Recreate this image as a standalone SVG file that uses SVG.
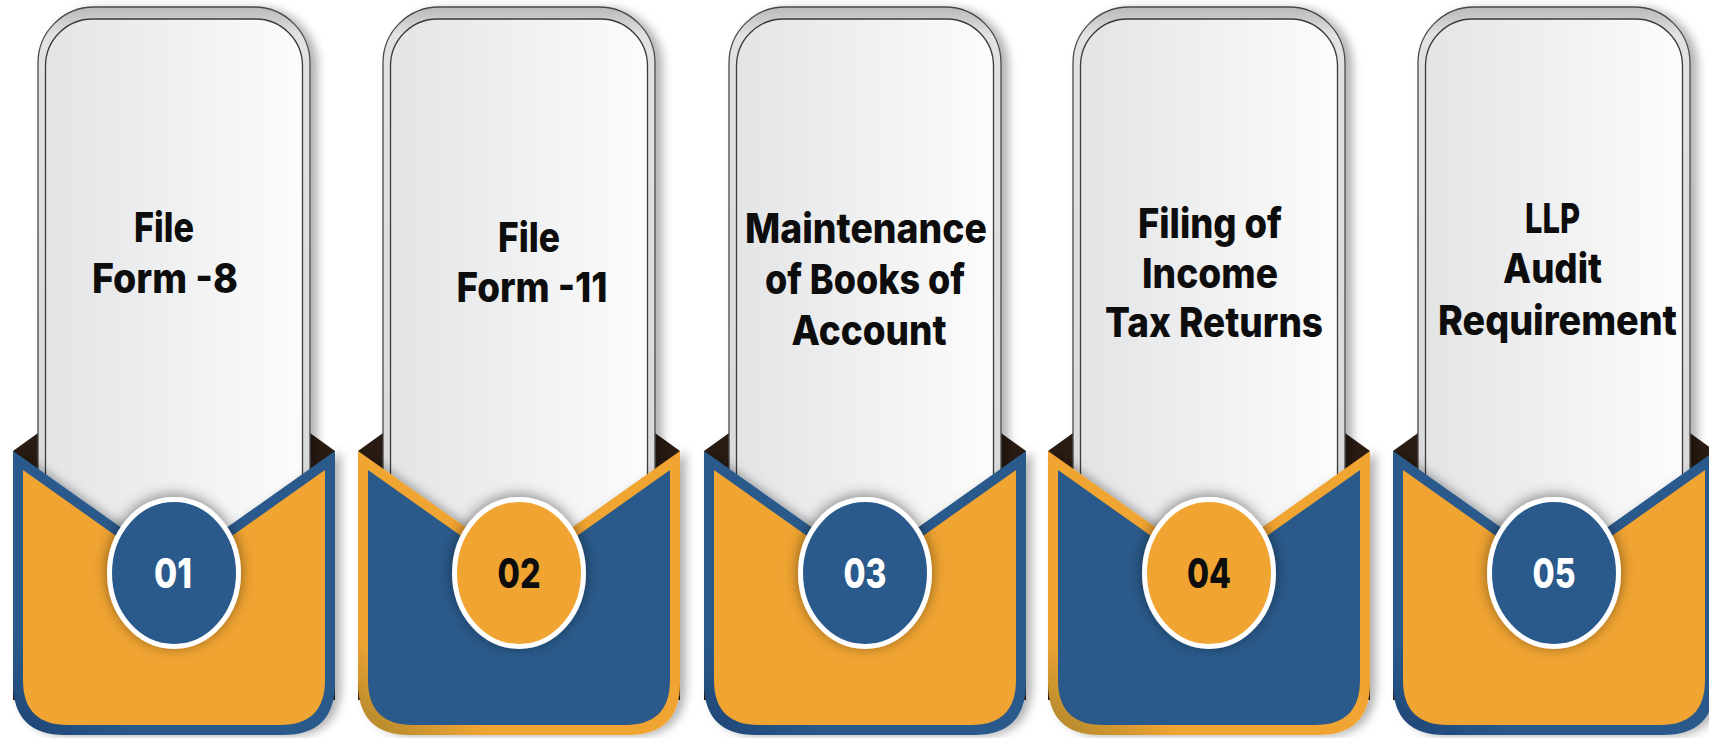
<svg xmlns="http://www.w3.org/2000/svg" width="1709" height="738" viewBox="0 0 1709 738">
<defs>
<linearGradient id="cardFill" x1="0" y1="0" x2="1" y2="0">
<stop offset="0" stop-color="#e3e4e6"/>
<stop offset="1" stop-color="#fcfcfc"/>
</linearGradient>
<linearGradient id="band" x1="0" y1="0" x2="0" y2="1">
<stop offset="0" stop-color="#b9b9b9"/>
<stop offset="0.04" stop-color="#e2e2e2"/>
<stop offset="1" stop-color="#d6d6d6"/>
</linearGradient>
<linearGradient id="edgeOrange" x1="0" y1="1" x2="0.4" y2="0.55">
<stop offset="0" stop-color="#a9852d"/>
<stop offset="0.45" stop-color="#f0a431"/>
<stop offset="1" stop-color="#f0a431"/>
</linearGradient>
<linearGradient id="edgeBlue" x1="0" y1="1" x2="0.4" y2="0.55">
<stop offset="0" stop-color="#1d4574"/>
<stop offset="0.45" stop-color="#2a5a8b"/>
<stop offset="1" stop-color="#2a5a8b"/>
</linearGradient>
<filter id="cardShadow" x="-20%" y="-10%" width="140%" height="130%">
<feDropShadow dx="7" dy="2" stdDeviation="5" flood-color="#000" flood-opacity="0.3"/>
</filter>
<filter id="pocketShadow" x="-20%" y="-20%" width="140%" height="150%">
<feDropShadow dx="6" dy="1" stdDeviation="5" flood-color="#000" flood-opacity="0.3"/>
</filter>
<filter id="circleShadow" x="-40%" y="-40%" width="180%" height="180%">
<feDropShadow dx="0" dy="-2" stdDeviation="7" flood-color="#000" flood-opacity="0.45"/>
</filter>
</defs>
<style>
.back{fill:#2a1c12}
.cardOuter{fill:url(#band);stroke:#4a4a4a;stroke-width:1.3}
.cardInner{fill:url(#cardFill);stroke:#3a3a3a;stroke-width:1.3}
.label{font-family:Inter,"Open Sans","Liberation Sans",sans-serif;font-weight:800;font-size:41px;fill:#0d0d0d;text-anchor:middle}
.num{font-family:Inter,"Open Sans","Liberation Sans",sans-serif;font-weight:800;font-size:41px;text-anchor:middle}
.blueEdge{fill:url(#edgeBlue)}
.orangeEdge{fill:url(#edgeOrange)}
.blueFill{fill:#2a5a8b}
.orangeFill{fill:#f0a431}
.ring{stroke:#fff;stroke-width:5}
.numWhite{fill:#fff}
.numBlack{fill:#0d0d0d}
</style>
<rect width="1709" height="738" fill="#ffffff"/>

<g id="node-01" transform="translate(38,0)">
<polygon class="back" points="-25,451 0,433 272,433 297,451 297,700 -25,700"/>
<g filter="url(#cardShadow)">
<rect class="cardOuter" x="0" y="7" width="272" height="700" rx="56"/>
<rect class="cardInner" x="7.5" y="19" width="257" height="690" rx="47"/>
</g>
<text class="label" x="126" y="242" textLength="60" lengthAdjust="spacingAndGlyphs">File</text>
<text class="label" x="127" y="293" textLength="146" lengthAdjust="spacingAndGlyphs">Form -8</text>
<g filter="url(#pocketShadow)">
<path class="blueEdge" d="M-25,451 L136,565 L297,451 L297,683 Q297,735 245,735 L27,735 Q-25,735 -25,683 Z"/>
<path class="orangeFill" d="M-15,470 L136,577 L287,470 L287,680 Q287,725 242,725 L30,725 Q-15,725 -15,680 Z"/>
</g>
<ellipse class="blueFill ring" cx="136" cy="573" rx="64.5" ry="73.5" filter="url(#circleShadow)"/>
<text class="num numWhite" x="135" y="588" textLength="38" lengthAdjust="spacingAndGlyphs">01</text>
</g>

<g id="node-02" transform="translate(383,0)">
<polygon class="back" points="-25,451 0,433 272,433 297,451 297,700 -25,700"/>
<g filter="url(#cardShadow)">
<rect class="cardOuter" x="0" y="7" width="272" height="700" rx="56"/>
<rect class="cardInner" x="7.5" y="19" width="257" height="690" rx="47"/>
</g>
<text class="label" x="146" y="252" textLength="62" lengthAdjust="spacingAndGlyphs">File</text>
<text class="label" x="149" y="302" textLength="151" lengthAdjust="spacingAndGlyphs">Form -11</text>
<g filter="url(#pocketShadow)">
<path class="orangeEdge" d="M-25,451 L136,565 L297,451 L297,683 Q297,735 245,735 L27,735 Q-25,735 -25,683 Z"/>
<path class="blueFill" d="M-15,470 L136,577 L287,470 L287,680 Q287,725 242,725 L30,725 Q-15,725 -15,680 Z"/>
</g>
<ellipse class="orangeFill ring" cx="136" cy="573" rx="64.5" ry="73.5" filter="url(#circleShadow)"/>
<text class="num numBlack" x="136" y="588" textLength="43" lengthAdjust="spacingAndGlyphs">02</text>
</g>

<g id="node-03" transform="translate(729,0)">
<polygon class="back" points="-25,451 0,433 272,433 297,451 297,700 -25,700"/>
<g filter="url(#cardShadow)">
<rect class="cardOuter" x="0" y="7" width="272" height="700" rx="56"/>
<rect class="cardInner" x="7.5" y="19" width="257" height="690" rx="47"/>
</g>
<text class="label" x="137" y="243" textLength="242" lengthAdjust="spacingAndGlyphs">Maintenance</text>
<text class="label" x="136" y="294" textLength="200" lengthAdjust="spacingAndGlyphs">of Books of</text>
<text class="label" x="140" y="345" textLength="155" lengthAdjust="spacingAndGlyphs">Account</text>
<g filter="url(#pocketShadow)">
<path class="blueEdge" d="M-25,451 L136,565 L297,451 L297,683 Q297,735 245,735 L27,735 Q-25,735 -25,683 Z"/>
<path class="orangeFill" d="M-15,470 L136,577 L287,470 L287,680 Q287,725 242,725 L30,725 Q-15,725 -15,680 Z"/>
</g>
<ellipse class="blueFill ring" cx="136" cy="573" rx="64.5" ry="73.5" filter="url(#circleShadow)"/>
<text class="num numWhite" x="136" y="588" textLength="43" lengthAdjust="spacingAndGlyphs">03</text>
</g>

<g id="node-04" transform="translate(1073,0)">
<polygon class="back" points="-25,451 0,433 272,433 297,451 297,700 -25,700"/>
<g filter="url(#cardShadow)">
<rect class="cardOuter" x="0" y="7" width="272" height="700" rx="56"/>
<rect class="cardInner" x="7.5" y="19" width="257" height="690" rx="47"/>
</g>
<text class="label" x="137" y="238" textLength="144" lengthAdjust="spacingAndGlyphs">Filing of</text>
<text class="label" x="137" y="288" textLength="136" lengthAdjust="spacingAndGlyphs">Income</text>
<text class="label" x="141" y="337" textLength="218" lengthAdjust="spacingAndGlyphs">Tax Returns</text>
<g filter="url(#pocketShadow)">
<path class="orangeEdge" d="M-25,451 L136,565 L297,451 L297,683 Q297,735 245,735 L27,735 Q-25,735 -25,683 Z"/>
<path class="blueFill" d="M-15,470 L136,577 L287,470 L287,680 Q287,725 242,725 L30,725 Q-15,725 -15,680 Z"/>
</g>
<ellipse class="orangeFill ring" cx="136" cy="573" rx="64.5" ry="73.5" filter="url(#circleShadow)"/>
<text class="num numBlack" x="136" y="588" textLength="44" lengthAdjust="spacingAndGlyphs">04</text>
</g>

<g id="node-05" transform="translate(1418,0)">
<polygon class="back" points="-25,451 0,433 272,433 297,451 297,700 -25,700"/>
<g filter="url(#cardShadow)">
<rect class="cardOuter" x="0" y="7" width="272" height="700" rx="56"/>
<rect class="cardInner" x="7.5" y="19" width="257" height="690" rx="47"/>
</g>
<text class="label" x="134.5" y="233" textLength="55" lengthAdjust="spacingAndGlyphs">LLP</text>
<text class="label" x="134.5" y="283" textLength="99" lengthAdjust="spacingAndGlyphs">Audit</text>
<text class="label" x="139.5" y="335" textLength="239" lengthAdjust="spacingAndGlyphs">Requirement</text>
<g filter="url(#pocketShadow)">
<path class="blueEdge" d="M-25,451 L136,565 L297,451 L297,683 Q297,735 245,735 L27,735 Q-25,735 -25,683 Z"/>
<path class="orangeFill" d="M-15,470 L136,577 L287,470 L287,680 Q287,725 242,725 L30,725 Q-15,725 -15,680 Z"/>
</g>
<ellipse class="blueFill ring" cx="136" cy="573" rx="64.5" ry="73.5" filter="url(#circleShadow)"/>
<text class="num numWhite" x="136" y="588" textLength="43" lengthAdjust="spacingAndGlyphs">05</text>
</g>

<g id="connectors"/>
</svg>
